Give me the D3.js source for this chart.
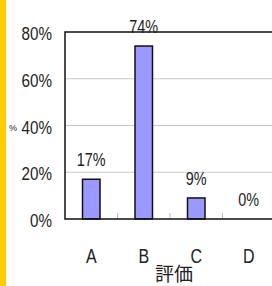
<!DOCTYPE html>
<html lang="ja">
<head>
<meta charset="UTF-8">
<title>評価</title>
<script src="https://d3js.org/d3.v7.min.js"></script>
<style>
  body { margin: 0; background: #fff; }
  text { font-family: "Liberation Sans", Arial, sans-serif; fill: #222; }
</style>
</head>
<body>
<div id="chart"></div>
<script>
// 評価ごとの割合
var categories = ["A", "B", "C", "D"];
var values = [17, 74, 9, 0];
var yTicks = [0, 20, 40, 60, 80];

var width = 272, height = 286;
var plotLeft = 65, plotTop = 32, plotBottom = 219, plotRight = 275;
var narrow = 0.8; // 細い字体の代わりに横を縮める

function place(sel, fx, fy) {
  sel.attr("transform", function(d, i){
    return "translate(" + fx(d, i) + "," + fy(d, i) + ") scale(" + narrow + ",1)";
  });
}

var svg = d3.select("#chart").append("svg")
  .attr("width", width)
  .attr("height", height);

svg.append("rect").attr("x", 0).attr("y", 0)
  .attr("width", 6).attr("height", height)
  .attr("fill", "#ffcc00");

var x = d3.scaleBand().domain(categories).range([plotLeft, plotRight]);
var y = d3.scaleLinear().domain([0, 80]).range([plotBottom, plotTop]);

// 目盛り線
svg.selectAll(".grid").data(yTicks.slice(1, -1)).enter()
  .append("line")
  .attr("x1", plotLeft).attr("x2", width)
  .attr("y1", function(d){ return y(d); })
  .attr("y2", function(d){ return y(d); })
  .attr("stroke", "#c8c8c8").attr("stroke-width", 1);

// x軸の区切り
svg.selectAll(".xtick").data(categories.slice(1)).enter()
  .append("line")
  .attr("x1", function(d){ return x(d); })
  .attr("x2", function(d){ return x(d); })
  .attr("y1", plotBottom).attr("y2", plotBottom - 6)
  .attr("stroke", "#bbb");

// 棒
var bw = x.bandwidth() / 3;
svg.selectAll(".bar").data(values).enter()
  .append("rect")
  .attr("x", function(d, i){ return x(categories[i]) + x.bandwidth() / 2 - bw / 2; })
  .attr("y", function(d){ return y(d); })
  .attr("width", bw)
  .attr("height", function(d){ return plotBottom - y(d); })
  .attr("fill", "#9999ff")
  .attr("stroke", "#111")
  .attr("stroke-width", 1.5);

// 枠
svg.append("path")
  .attr("d", "M" + width + "," + plotTop + "H" + plotLeft + "V" + plotBottom + "H" + width)
  .attr("fill", "none").attr("stroke", "#111").attr("stroke-width", 1.5);

// 値ラベル
svg.selectAll(".val").data(values).enter()
  .append("text")
  .attr("text-anchor", "middle")
  .attr("font-size", 18)
  .text(function(d){ return d + "%"; })
  .call(place,
    function(d, i){ return x(categories[i]) + x.bandwidth() / 2; },
    function(d){ return y(d) - 13; });

// y軸ラベル
svg.selectAll(".ylab").data(yTicks).enter()
  .append("text")
  .attr("text-anchor", "end")
  .attr("font-size", 19)
  .text(function(d){ return d + "%"; })
  .call(place,
    function(){ return 52; },
    function(d){ return y(d) + 8; });

// x軸ラベル
svg.selectAll(".xlab").data(categories).enter()
  .append("text")
  .attr("text-anchor", "middle")
  .attr("font-size", 20)
  .text(function(d){ return d; })
  .call(place,
    function(d){ return x(d) + x.bandwidth() / 2; },
    function(){ return 263; });

svg.append("text")
  .attr("x", 174).attr("y", 281)
  .attr("text-anchor", "middle")
  .attr("font-size", 19)
  .style("font-family", "'Noto Sans CJK JP', sans-serif")
  .text("評価");

svg.append("text")
  .attr("x", 13).attr("y", 131)
  .attr("text-anchor", "middle")
  .attr("font-size", 9)
  .text("%");
</script>
</body>
</html>
